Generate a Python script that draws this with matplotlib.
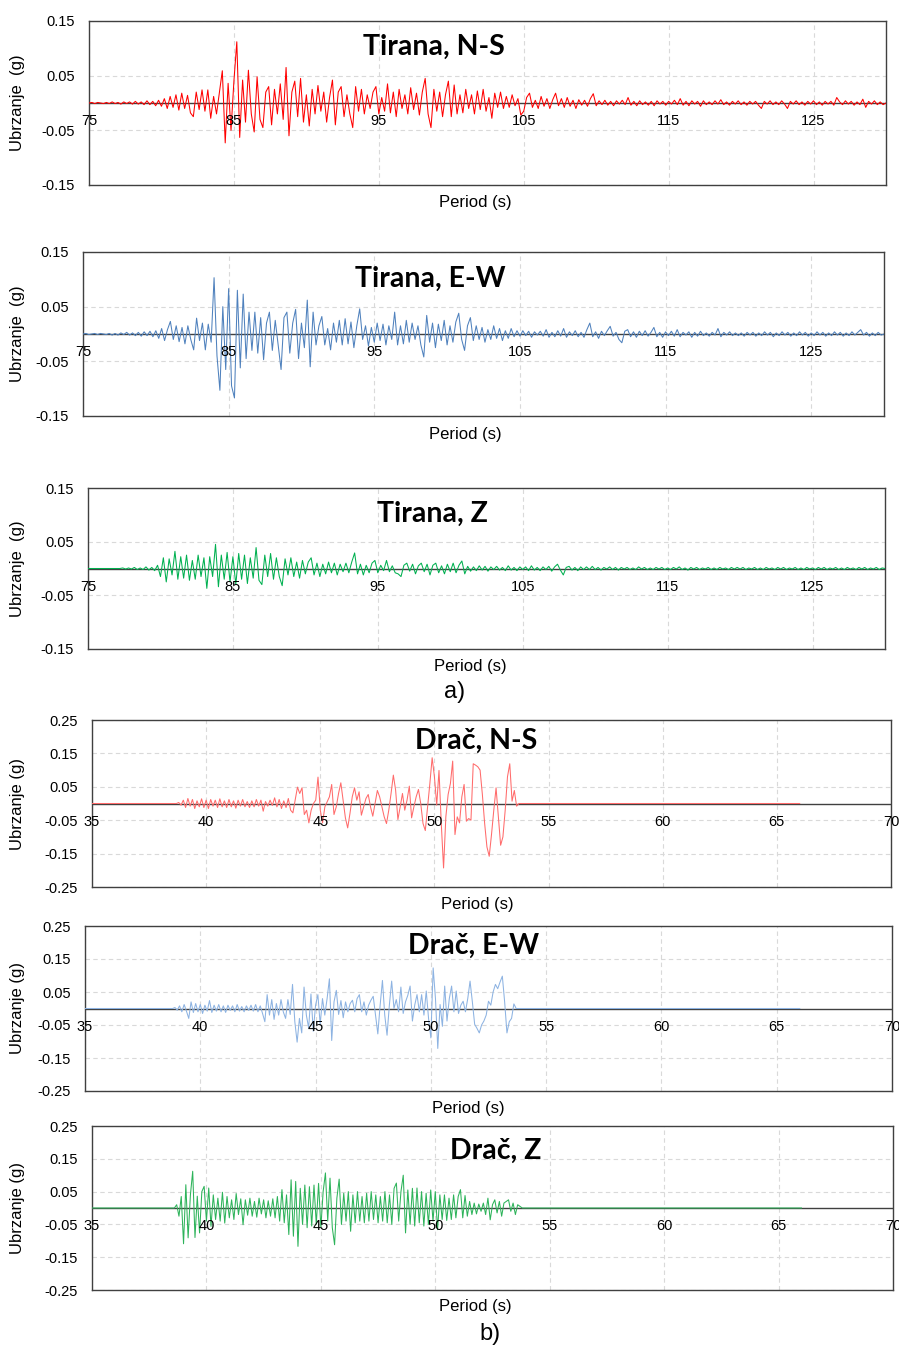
import numpy as np
import matplotlib.pyplot as plt

plt.rcParams['font.family'] = ['Liberation Sans', 'DejaVu Sans']

# ---------------------------------------------------------------------------
# Data (accelerations in mg)
# ---------------------------------------------------------------------------

# Tirana: one sample every 0.2 s starting at 75 s
tirana_t0, tirana_dt = 75.0, 0.2

tirana_ns_mg = [
    0, 1, -1, 1, 0, -1, 1, -1, 2, -1, 1, -2, 2, -1, 2, -2, 3, -2, 2, -3, 4, -3, 3, -5, 5,
    -6, 8, -10, 12, -8, 15, -13, 18, -10, 14, -18, -25, 20, -12, 24, -15, 24, -28, 12, -20, 20, 59, -73, 36, -50,
    40, 112, -63, 42, -35, 60, -20, -53, 48, -30, -45, 20, 30, -40, 25, -20, 35, -30, 65, -60, 20, 40, -25, 45, -35,
    15, -42, 25, -20, 32, -15, 20, -35, 10, 42, -40, 20, 30, -25, 15, -20, -45, 30, -15, 25, -20, 15, -10, 20, 30,
    -20, 10, -15, 35, -18, 20, -25, 25, -10, 15, -20, 28, -12, 18, -22, 20, 45, -20, -45, 25, -15, 20, -25, 15, 40,
    -25, 33, -20, 15, -18, 25, -10, 15, -20, 22, -12, 25, -15, 10, -28, 18, -8, 20, -10, 12, -8, 15, -5, 8, -22,
    -15, 10, 18, -8, 5, -10, 12, -6, 8, -10, 6, 18, -5, 8, -8, 10, -6, 5, -10, 6, -4, 5, -6, 8, 17,
    -5, 4, -3, 5, -4, 3, -5, 4, -2, 5, -3, 10, -4, 3, -5, 4, -3, 2, -4, 3, -5, 4, -2, 3, -4,
    3, -2, 5, -3, 8, -4, 3, -5, 4, -2, 3, -6, 4, -3, 2, -3, 4, -2, 6, -3, 2, -4, 3, -2, 4,
    -3, 2, -4, 3, -2, 3, -4, -10, 3, -2, 4, -3, 2, -3, 4, -2, -10, 3, -2, 4, -3, 2, -4, 3, -2,
    4, -3, 2, -4, 3, -2, 3, -4, 10, 2, -3, 4, -2, 3, -4, 2, -3, 7, -8, 3, -2, 4, -3, 2, -3,
    0,
]

tirana_ew_mg = [
    0, 1, -1, 0, 1, -1, 1, 0, -1, 1, -2, 1, -2, 2, -1, 3, -2, 2, -3, 3, -4, 4, -3, 5, -5,
    6, -8, 10, -12, 8, 23, -10, 15, -14, 12, -18, 15, -10, -29, 29, -12, 20, -29, 18, -15, 103, -40, -103, 50, -65,
    83, -95, -117, 80, -62, 73, -45, 40, -30, 40, -35, 30, -47, 20, 40, -30, 25, -20, -65, 30, 40, -35, 20, 45, -45,
    20, -25, 62, -60, 40, -20, 15, 32, -20, 10, -29, 20, -15, 25, -20, 28, -18, 22, -25, 15, 46, -10, 15, -22, 12,
    -15, 20, -12, 18, -20, 15, -10, 40, -20, 15, -18, 25, -15, 20, -10, 15, -20, -42, 34, -15, 20, -25, 18, -12, 25,
    -20, 15, -15, 22, 38, -10, -30, 15, 30, -12, 15, -10, 12, -15, 8, -10, 15, -8, 10, -12, 6, -8, 10, -5, 6,
    -4, 6, -3, 5, -6, 4, -2, 5, -4, 8, -6, 3, -5, 6, -4, 10, -6, 4, -3, 6, -5, 3, -6, 8, 20,
    -5, 4, -8, 5, -3, 6, 14, -4, 3, -10, -16, 5, 8, -5, 4, -6, 5, -3, 6, -4, 3, 12, -5, 3, -6,
    4, -3, 5, -4, 8, -5, 3, -2, 4, -6, 3, -4, 5, -3, 2, -4, 3, -2, 10, -5, 3, -2, 4, -3, 2,
    -3, 2, -4, 3, -2, 3, -4, 2, -3, 4, -2, 3, -5, 2, -3, 4, -2, 3, -4, 2, -3, 4, -2, 3, -4,
    2, -3, 4, -2, 3, -4, 2, -3, 4, -2, 3, -4, 2, -3, 4, -2, 3, 8, -2, 3, -4, 2, -3, 3, -2,
    0,
]

tirana_z_mg = [
    0, 0, 0, 0, 0, 0, 0, 0, 0, 0, 0, 0, 1, -1, 1, -1, 2, -2, 1, -2, 3, -3, 2, -4, 6,
    -15, 20, -25, 18, -12, 32, -20, 22, -18, 25, -22, 15, -20, 25, -15, 20, -37, 22, -15, 45, -34, 25, -20, 30, -25,
    22, -30, 28, -20, 25, -28, 20, -18, 39, -22, -30, 25, -15, 28, -20, 20, -15, -32, 18, -12, 20, -15, 12, -18, 15,
    -10, 12, 20, -12, 10, -15, 8, -10, 12, -8, 10, -12, 8, -6, 10, -8, 12, 29, -10, 8, -12, 6, -8, 10, 15,
    -8, 6, -4, 15, -6, 5, -8, -10, -15, 6, 10, -5, 8, -10, 5, 10, -6, 8, -12, 6, 10, -8, 5, -10, 8,
    -6, 10, -8, 6, 14, -10, 4, -5, 3, -4, 5, -3, 4, -5, 3, -2, 4, -3, 2, -4, 5, -3, 2, -4, 3,
    -2, 3, -4, 5, -3, 2, -4, 3, -2, 4, -5, 3, 8, -3, -12, 2, 4, -3, 2, -4, 3, -2, 3, -2, 4,
    -2, 2, -3, 2, -1, 3, -2, 2, -3, 2, -1, 2, -2, 1, -2, 3, -1, 2, -2, 1, -2, 2, -1, 2, -2,
    1, -2, 2, -1, 3, -2, 1, -3, 2, -1, 2, -2, 1, -1, 2, -2, 1, -2, 2, -1, 1, -2, 2, -1, 2,
    -1, 2, -2, 1, -1, 2, -2, 1, -2, 2, -1, 1, -2, 2, -1, 2, -2, 1, -1, 2, -2, 1, -2, 2, -1,
    1, -2, 2, -1, 2, -2, 1, -1, 2, -2, 1, -2, 2, -1, 1, -2, 2, -1, 2, -2, 1, -1, 2, -2, 1,
    0,
]

# Drač: one sample every 0.1 s during the strong motion, flat record around it
drac_dt = 0.1
drac_rec_start, drac_rec_end = 35.0, 66.0

drac_ns_t0 = 38.8
drac_ns_mg = [
    3, -5,
    10, -12, 15, -8, 12, -15, 8, -10, 14, -12,
    10, -15, 12, -8, 10, -12, 14, -10, 8, -12,
    12, -10, 8, -14, 10, -8, 12, -10, 6, -12,
    8, -10, 12, -8, 10, -23, 6, -8, 10, -6,
    17, -10, 12, -15, 8, -12, 15, -20, -28, 10,
    49, 30, 47, -33, -20, -58, -20, 0, 10, 79,
    -20, -58, -10, 5, 20, 57, -33, -10, 30, 62,
    10, -43, -73, -30, 20, 47, 10, 35, -35, -10,
    15, 27, -10, -38, 0, 39, 20, -10, -40, -60,
    -20, 30, 85, 40, -48, -10, 30, -20, 10, 52,
    -43, -10, 20, 42, 0, -60, -81, -10, 60, 137,
    80, -5, 99, -60, -193, -40, 27, 60, 127, -93,
    -40, -58, 20, 57, -53, -45, -50, 119, 115, 110,
    100, 27, -60, -130, -158, -93, -20, 47, -40, -125,
    -100, -20, 80, 119, 7, 39, -8,
]

drac_ew_t0 = 38.9
drac_ew_mg = [
    3,
    -5, 8, -10, 12, -8, -30, 20, -12, 15, -10,
    12, -15, 10, -8, 24, -12, 10, -8, 12, -10,
    8, -12, 10, -6, 8, -10, 12, -8, 6, -10,
    8, -6, 10, -8, 12, -10, 8, -15, -40, 42,
    -20, 27, -33, 15, -20, 27, -10, -30, 27, -18,
    73, -40, -102, -30, -74, 65, -20, -59, 44, -69,
    10, 42, -48, 30, -20, 30, 90, -97, 20, 55,
    -18, 24, -28, 20, -10, 15, 25, -10, 30, 42,
    -10, 20, -20, 10, 25, 37, -20, -77, 10, 85,
    -20, -81, 10, 83, 0, 27, -10, 65, -15, 20,
    40, 68, -38, 10, 42, -10, 42, -20, 53, -30,
    -89, 123, 30, -121, 12, -54, 68, -38, 30, 68,
    -10, 53, -15, 10, 22, -10, 30, 83, 20, -48,
    -60, -74, -50, -38, -20, 22, 10, 50, 73, 60,
    80, 98, 20, -74, -40, -30, 14,
]

drac_z_t0 = 38.7
drac_z_mg = [
    10, -25, 35,
    -109, 71, -91, 40, 112, -90, 36, -76, 50, 66,
    -40, 61, -56, 40, -35, 30, -40, 48, -46, 35,
    -30, 25, -35, 44, -20, 28, -51, 25, -22, 30,
    -25, 20, -28, 30, -18, 25, -30, 22, -25, 28,
    -30, 35, -40, 56, -45, 40, -81, 86, -86, 81,
    -117, 60, -50, 70, -60, 65, -55, 70, -50, 75,
    -60, 50, 107, -40, 91, -60, -112, 30, 88, -50,
    45, -40, 50, -71, 40, -45, 50, -40, 35, -45,
    45, -40, 50, -35, 40, -45, 35, -40, 50, -45,
    40, -50, 60, 76, -40, 50, 100, -76, 55, -50,
    60, -55, 61, -45, 50, -55, 45, -50, 55, -40,
    50, -66, 40, -35, 40, -38, 30, -35, 40, -30,
    35, 56, -30, 38, -25, 20, -20, 15, -18, 12,
    -10, 15, -20, 30, -36, 10, 25, -15, 20, -25,
    15, 20, 25, -10, 15, -20, 10, 5,
]

tirana_xticks = [75, 85, 95, 105, 115, 125]
tirana_yticks = [-0.15, -0.05, 0.05, 0.15]
drac_xticks = [35, 40, 45, 50, 55, 60, 65, 70]
drac_yticks = [-0.25, -0.15, -0.05, 0.05, 0.15, 0.25]


def tirana_series(vals):
    t = tirana_t0 + tirana_dt * np.arange(len(vals))
    return t, np.array(vals) / 1000.0


def drac_series(t0, vals):
    # flat (zero) record before and after the strong-motion window
    t = t0 + drac_dt * np.arange(len(vals))
    t = np.concatenate([[drac_rec_start, t0 - drac_dt], t,
                        [t[-1] + drac_dt, drac_rec_end]])
    a = np.concatenate([[0.0, 0.0], np.array(vals) / 1000.0, [0.0, 0.0]])
    return t, a


# ---------------------------------------------------------------------------
# Figure
# ---------------------------------------------------------------------------

W, H = 899, 1347
fig = plt.figure(figsize=(W / 100, H / 100), dpi=100)


def px_axes(x0, y0, x1, y1):
    return fig.add_axes([x0 / W, 1 - y1 / H, (x1 - x0) / W, (y1 - y0) / H])


def panel(box, t, a, color, xlim, ylim, xticks, yticks, title, title_xy,
          ylabel, xlabel_xy):
    ax = px_axes(*box)
    ax.axhline(0, color='#404040', lw=1.0, zorder=2)
    ax.plot(t, a, color=color, lw=0.75, zorder=3)
    ax.set_xlim(*xlim)
    ax.set_ylim(*ylim)
    ax.set_xticks(xticks)
    ax.set_xticklabels([])
    ax.set_yticks(yticks)
    ax.set_yticklabels([f'{v:.2f}' for v in yticks])
    ax.tick_params(length=0, pad=10, labelsize=10.5)
    ax.grid(True, ls=(0, (4, 3)), color='#D9D9D9', lw=0.8, zorder=0)
    ax.set_axisbelow(True)
    for s in ax.spines.values():
        s.set_color('#404040')
        s.set_linewidth(1.0)
    for v in xticks:
        ax.annotate(f'{v}', (v, 0), xytext=(0, -13), textcoords='offset points',
                    ha='center', va='center', fontsize=10.5,
                    annotation_clip=False, zorder=5)
    fig.text(title_xy[0] / W, 1 - title_xy[1] / H, title, ha='center',
             va='baseline', fontsize=20.5, fontweight='bold', family='Lato')
    ymid = (box[1] + box[3]) / 2
    fig.text(18 / W, 1 - ymid / H, ylabel, rotation=90, ha='center',
             va='center', fontsize=12)
    fig.text(xlabel_xy[0] / W, 1 - xlabel_xy[1] / H, 'Period (s)',
             ha='center', va='center', fontsize=12)
    return ax


t, a = tirana_series(tirana_ns_mg)
panel((89, 21, 886, 185), t, a, '#FF0000', (75, 130), (-0.15, 0.15),
      tirana_xticks, tirana_yticks, 'Tirana, N-S', (434, 55),
      'Ubrzanje  (g)', (475, 202))

t, a = tirana_series(tirana_ew_mg)
panel((83, 252, 884, 416), t, a, '#4F81BD', (75, 130), (-0.15, 0.15),
      tirana_xticks, tirana_yticks, 'Tirana, E-W', (430, 287),
      'Ubrzanje  (g)', (465, 435))

t, a = tirana_series(tirana_z_mg)
panel((88, 488, 885, 649), t, a, '#00B050', (75, 130), (-0.15, 0.15),
      tirana_xticks, tirana_yticks, 'Tirana, Z', (432, 522),
      'Ubrzanje  (g)', (470, 667))

fig.text(455 / W, 1 - 692 / H, 'a)', ha='center', va='center', fontsize=17)

t, a = drac_series(drac_ns_t0, drac_ns_mg)
panel((92, 720, 891, 887), t, a, '#FF6B6B', (35, 70), (-0.25, 0.25),
      drac_xticks, drac_yticks, 'Drač, N-S', (476, 749),
      'Ubrzanje (g)', (477, 905))

t, a = drac_series(drac_ew_t0, drac_ew_mg)
panel((85, 926, 892, 1091), t, a, '#8DB3E2', (35, 70), (-0.25, 0.25),
      drac_xticks, drac_yticks, 'Drač, E-W', (474, 954),
      'Ubrzanje (g)', (468, 1108))

t, a = drac_series(drac_z_t0, drac_z_mg)
panel((92, 1126, 893, 1290), t, a, '#2DB35A', (35, 70), (-0.25, 0.25),
      drac_xticks, drac_yticks, 'Drač, Z', (496, 1159),
      'Ubrzanje (g)', (475, 1306))

fig.text(490 / W, 1 - 1334 / H, 'b)', ha='center', va='center', fontsize=17)

fig.savefig('out.png', dpi=100)
